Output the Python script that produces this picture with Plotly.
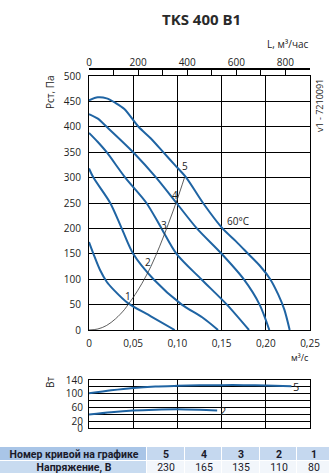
import plotly.graph_objects as go

# ---- data ----
q1 = [0, 0.005, 0.0125, 0.02, 0.028, 0.044, 0.07, 0.097]
p1 = [173, 150, 118, 95, 79, 53, 27, 0]

q2 = [0, 0.005, 0.024, 0.037, 0.05, 0.073, 0.105, 0.128, 0.146]
p2 = [318, 300, 250, 200, 150, 100, 50, 25, 0]

q3 = [0, 0.01, 0.02, 0.041, 0.065, 0.082, 0.099, 0.127, 0.156, 0.181]
p3 = [388, 370, 350, 300, 250, 200, 150, 100, 50, 0]

q4 = [0, 0.01, 0.02, 0.05, 0.076, 0.099, 0.122, 0.15, 0.175, 0.193, 0.204]
p4 = [425, 416, 400, 350, 300, 250, 200, 150, 100, 50, 0]

q5 = [0, 0.01, 0.02, 0.03, 0.04, 0.056, 0.07, 0.084, 0.097, 0.11, 0.129, 0.151, 0.166, 0.18, 0.194, 0.205, 0.214, 0.221, 0.227]
p5 = [452, 458, 456, 447, 435, 400, 377, 350, 325, 300, 250, 200, 175, 150, 125, 100, 70, 40, 0]

qs = [0, 0.01, 0.02, 0.03, 0.04, 0.045, 0.05, 0.06, 0.07, 0.08, 0.09, 0.1, 0.108]
ps = [0, 2, 9, 22, 40, 52, 64, 92, 125, 165, 210, 258, 300]

qw5 = [0, 0.025, 0.05, 0.075, 0.1, 0.125, 0.15, 0.175, 0.2, 0.229]
w5 = [101, 110, 117, 121, 123, 124.5, 125, 125, 124, 122]
qw2 = [0, 0.025, 0.05, 0.075, 0.1, 0.125, 0.145]
w2 = [39, 46, 51, 53.5, 54.5, 53, 51]

curve_labels = ["1", "2", "3", "4", "5"]
curve_label_q = [0.044, 0.067, 0.085, 0.097, 0.109]
curve_label_p = [67, 134, 207, 266, 323]

x_tickvals = [0, 0.05, 0.10, 0.15, 0.20, 0.25]
x_ticktext = ["0", "0,05", "0,10", "0,15", "0,20", "0,25"]
top_tickvals = [0, 100, 200, 300, 400, 500, 600, 700, 800, 900]
top_ticktext = ["0", "", "200", "", "400", "", "600", "", "800", ""]
w_tickvals = [0, 20, 40, 60, 80, 100, 120, 140]
w_ticktext = ["0", "20", "", "60", "", "100", "", "140"]

table_head = ["Номер кривой на графике", "5", "4", "3", "2", "1"]
table_row = ["Напряжение, В", "230", "165", "135", "110", "80"]

# ---- figure ----
W, H = 330, 476
BLUE = "#1f64a3"
TXT = "#222222"
FONT = "Open Sans"
TFONT = "Roboto"
col_edges = [0, 147, 185, 222, 260, 297, 330]   # table column boundaries (px, layout)

def px_x(p):
    return p / W

def px_y(p):
    return (H - p) / H

fig = go.Figure()

for q, p in [(q1, p1), (q2, p2), (q3, p3), (q4, p4), (q5, p5)]:
    fig.add_trace(go.Scatter(x=q, y=p, mode="lines", line=dict(color=BLUE, width=2, shape="spline", smoothing=0.8),
                             xaxis="x", yaxis="y", hoverinfo="skip", showlegend=False))
fig.add_trace(go.Scatter(x=qs, y=ps, mode="lines", line=dict(color="#333333", width=0.8, shape="spline"),
                         xaxis="x", yaxis="y", hoverinfo="skip", showlegend=False))
# invisible trace so the top (m3/h) axis is bound
fig.add_trace(go.Scatter(x=[v * 3600 for v in q5], y=p5, mode="lines", opacity=0,
                         xaxis="x3", yaxis="y", hoverinfo="skip", showlegend=False))

for q, w in [(qw5, w5), (qw2, w2)]:
    fig.add_trace(go.Scatter(x=q, y=w, mode="lines", line=dict(color=BLUE, width=2, shape="spline", smoothing=0.8),
                             xaxis="x2", yaxis="y2", hoverinfo="skip", showlegend=False))

# table drawn as a heatmap with text
cell_text = [["<b>%s</b>" % v for v in table_head],
             ["<b>%s</b>" % table_row[0]] + table_row[1:]]
cell_kind = [[0] + [1] * (len(table_head) - 1),
             [2] + [3] * (len(table_row) - 1)]
fig.add_trace(go.Heatmap(
    x=col_edges, y=[0, 1, 2], z=cell_kind, text=cell_text, texttemplate="%{text}",
    textfont=dict(family=TFONT, size=10.5, color="#1a1a2a"),
    colorscale=[[0, "#a9c5e7"], [1 / 3, "#c5d8ef"], [2 / 3, "#c8dbf0"], [1, "#f2f6fb"]],
    zmin=0, zmax=3, showscale=False, xgap=1, ygap=1, hoverinfo="skip",
    xaxis="x4", yaxis="y4"))

axis_common = dict(showline=True, linecolor="black", linewidth=1, mirror=True, automargin=False,
                   gridcolor="black", gridwidth=1, zeroline=False, tickfont=dict(family=FONT, size=10, color=TXT))

fig.update_layout(
    width=W, height=H, margin=dict(l=0, r=0, t=0, b=0, autoexpand=False),
    paper_bgcolor="white", plot_bgcolor="white",
    font=dict(family=FONT, size=10, color=TXT),
    xaxis=dict(domain=[px_x(89), px_x(310)], range=[0, 0.25], anchor="y",
               tickvals=x_tickvals, ticktext=x_ticktext, showgrid=True, ticks="",
               ticklabelstandoff=4, **axis_common),
    yaxis=dict(domain=[px_y(330), px_y(76)], range=[0, 500], anchor="x", dtick=50,
               showgrid=True, ticks="", ticklabelstandoff=5, **axis_common),
    xaxis3=dict(overlaying="x", side="top", anchor="free", position=px_y(69), range=[0, 900],
                tickvals=top_tickvals, ticktext=top_ticktext, ticks="inside", ticklen=5, automargin=False,
                tickcolor="black", showline=True, linecolor="black", linewidth=1.5, showgrid=False,
                zeroline=False, ticklabelstandoff=-2, tickfont=dict(family=FONT, size=10, color=TXT)),
    xaxis2=dict(domain=[px_x(89), px_x(310)], range=[0, 0.25], anchor="y2", tickvals=x_tickvals,
                showticklabels=False, showgrid=True, ticks="", **axis_common),
    yaxis2=dict(domain=[px_y(428), px_y(380)], range=[0, 140], anchor="x2", tickvals=w_tickvals,
                ticktext=w_ticktext, showgrid=True, ticks="", ticklabelstandoff=3, **axis_common),
    xaxis4=dict(domain=[0, 1], range=[0, 330], anchor="y4", visible=False, automargin=False, fixedrange=True),
    yaxis4=dict(domain=[px_y(474), px_y(447)], range=[2, 0], anchor="x4", visible=False, automargin=False,
                fixedrange=True),
)

def A(x, y, text, size=10, xref="paper", yref="paper", angle=0, xanchor="center", color=TXT):
    return dict(x=x, y=y, xref=xref, yref=yref, text=text, showarrow=False, textangle=angle,
                xanchor=xanchor, yanchor="middle", font=dict(size=size, color=color))

ann = []
for t, q, p in zip(curve_labels, curve_label_q, curve_label_p):
    ann.append(A(q, p, t, 10, "x", "y"))
ann.append(A(0.168, 215, "60°C", 10, "x", "y"))
ann.append(A(0.234, 121, "5", 11, "x2", "y2"))
ann.append(A(0.152, 51, "2", 11, "x2", "y2"))
ann.append(A(px_x(201), px_y(19), "<b>TKS 400 B1</b>", 15, color="#2a2a2a"))
ann.append(A(px_x(311), px_y(44), "L, м³/час", 10, xanchor="right"))
ann.append(A(px_x(311), px_y(357), "м³/с", 9, xanchor="right"))
ann.append(A(px_x(50), px_y(92), "Pст, Па", 10, angle=-90))
ann.append(A(px_x(50), px_y(383), "Вт", 10, angle=-90))
ann.append(A(px_x(319), px_y(106), "v1 - 7210091", 9, angle=-90))
fig.update_layout(annotations=ann)

fig.write_html("out.html")
